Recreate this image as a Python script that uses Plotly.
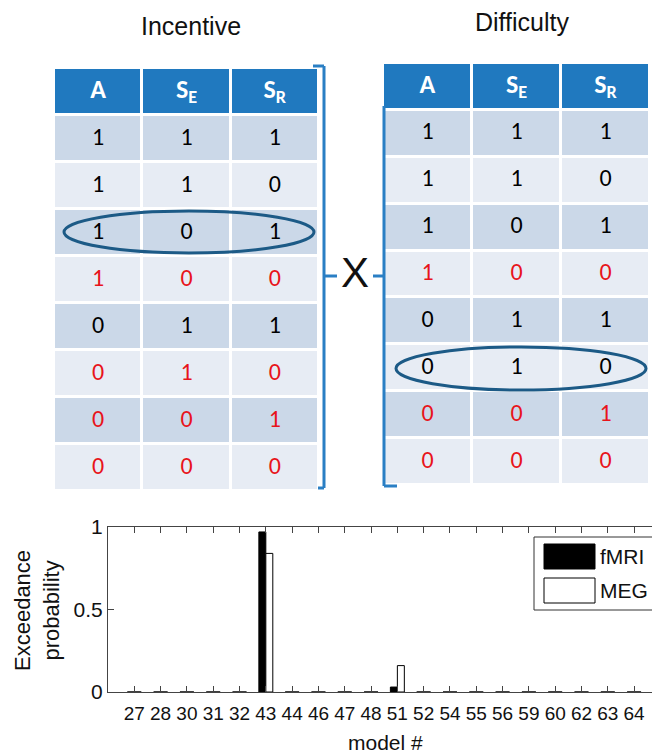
import plotly.graph_objects as go

W, H = 652, 754

# ---------------- data ----------------
table_headers = ["A", "S<sub>E</sub>", "S<sub>R</sub>"]
col_A = ["1", "1", "1", "1", "0", "0", "0", "0"]
col_SE = ["1", "1", "0", "0", "1", "1", "0", "0"]
col_SR = ["1", "0", "1", "0", "1", "0", "1", "0"]
incentive_red_rows = [3, 5, 6, 7]
difficulty_red_rows = [3, 6, 7]
incentive_title = "Incentive"
difficulty_title = "Difficulty"

models = ["27", "28", "30", "31", "32", "43", "44", "46", "47", "48",
          "51", "52", "54", "55", "56", "59", "60", "62", "63", "64"]
fmri = [0, 0, 0, 0, 0, 0.97, 0, 0, 0, 0,
        0.03, 0, 0, 0, 0, 0, 0, 0, 0, 0]
meg = [0, 0, 0, 0, 0, 0.84, 0, 0, 0, 0,
       0.16, 0, 0, 0, 0, 0, 0, 0, 0, 0]
series_names = ["fMRI", "MEG"]
series_fill = ["black", "white"]


def px(x):
    return x / W


def py(y):
    return 1 - y / H


HEADER_BLUE = "#2079bf"
ROW_DARK = "#cbd8e8"
ROW_LIGHT = "#e7ecf4"
RED = "#e8141b"
BRACKET = "#2a7fc4"
ELLIPSE = "#1c5a86"

CELL_FONT = "Carlito, Lato, Open Sans, sans-serif"
AX_FONT = "Liberation Sans, Arial, sans-serif"

fig = go.Figure()
layout_axes = {}


def add_table(idx, x0, x1, y0, y1, red_rows):
    xa, ya = f"x{idx}", f"y{idx}"
    n = len(col_A)
    cols = [col_A, col_SE, col_SR]
    rows = list(range(-1, n))
    # z: header=2, dark=0, light=1
    z = [[2, 2, 2]] + [[(0 if i % 2 == 0 else 1)] * 3 for i in range(n)]
    fig.add_trace(go.Heatmap(
        x=[0, 1, 2], y=rows, z=z, zmin=0, zmax=2,
        colorscale=[[0, ROW_DARK], [0.5, ROW_LIGHT], [1, HEADER_BLUE]],
        showscale=False, xgap=3, ygap=3, hoverinfo="skip",
        xaxis=xa, yaxis=ya,
    ))
    # header text
    fig.add_trace(go.Scatter(
        x=[0, 1, 2], y=[-1, -1, -1], text=table_headers, mode="text",
        textposition="middle center",
        textfont=dict(family=CELL_FONT, size=26, color="white", weight="bold"),
        hoverinfo="skip", showlegend=False, xaxis=xa, yaxis=ya,
    ))
    tx, ty, tt, tc = [], [], [], []
    for c, col in enumerate(cols):
        for r, v in enumerate(col):
            tx.append(c)
            ty.append(r)
            tt.append(v)
            tc.append(RED if r in red_rows else "black")
    fig.add_trace(go.Scatter(
        x=tx, y=ty, text=tt, mode="text", textposition="middle center",
        textfont=dict(family=CELL_FONT, size=24, color=tc),
        hoverinfo="skip", showlegend=False, xaxis=xa, yaxis=ya,
    ))
    layout_axes[f"xaxis{idx}"] = dict(domain=[px(x0), px(x1)], range=[-0.5, 2.5],
                                      visible=False, fixedrange=True)
    layout_axes[f"yaxis{idx}"] = dict(domain=[py(y1), py(y0)], range=[n - 0.5, -1.5],
                                      visible=False, fixedrange=True)


add_table(2, 54, 319, 68, 491, incentive_red_rows)
add_table(3, 383, 650, 63, 485, difficulty_red_rows)

# ---------------- bar chart ----------------
fig.add_trace(go.Bar(x=list(range(len(models))), y=fmri, name=series_names[0],
                     marker=dict(color=series_fill[0], line=dict(color="black", width=1)),
                     showlegend=False))
fig.add_trace(go.Bar(x=list(range(len(models))), y=meg, name=series_names[1],
                     marker=dict(color=series_fill[1], line=dict(color="black", width=1)),
                     showlegend=False))

axis_line = "#444444"
fig.update_layout(
    width=W, height=H,
    margin=dict(l=0, r=0, t=0, b=0),
    paper_bgcolor="white", plot_bgcolor="rgba(0,0,0,0)",
    template="none",
    barmode="group", bargap=0.47, bargroupgap=0,
    showlegend=False,
    xaxis=dict(
        domain=[px(108), 1], range=[-1, 19.68],
        tickmode="array", tickvals=list(range(len(models))), ticktext=models,
        ticks="inside", ticklen=6, tickcolor=axis_line, tickangle=0,
        ticklabelstandoff=4,
        showline=True, linecolor=axis_line, linewidth=1, mirror="ticks",
        showgrid=False, zeroline=False, automargin=False,
        tickfont=dict(family=AX_FONT, size=19, color="#111"),
    ),
    yaxis=dict(
        domain=[py(692), py(527)], range=[0, 1],
        tickmode="array", tickvals=[0, 0.5, 1], ticktext=["0", "0.5", "1"],
        ticks="inside", ticklen=6, tickcolor=axis_line,
        showline=True, linecolor=axis_line, linewidth=1, mirror="ticks",
        showgrid=False, zeroline=False, automargin=False,
        tickfont=dict(family=AX_FONT, size=21, color="#111"),
    ),
    **layout_axes,
)

annotations = [
    dict(text=incentive_title, x=px(191), y=py(26), font=dict(size=25, family="Liberation Sans, Arial", color="#111")),
    dict(text=difficulty_title, x=px(522), y=py(22), font=dict(size=25, family="Liberation Sans, Arial", color="#111")),
    dict(text="X", x=px(354.5), y=py(272), font=dict(size=42, family="Liberation Sans, Arial", color="#111")),
    dict(text="model #", x=px(385), y=py(742), font=dict(size=21, family=AX_FONT, color="#111")),
    dict(text="Exceedance<br>probability", x=px(37), y=py(611), textangle=-90,
         font=dict(size=22, family=AX_FONT, color="#111")),
]

# custom legend
shapes = []
leg_x0, leg_y0, leg_x1, leg_y1 = 534, 537, 660, 610
shapes.append(dict(type="rect", xref="paper", yref="paper",
                   x0=px(leg_x0), x1=px(leg_x1), y0=py(leg_y1), y1=py(leg_y0),
                   line=dict(color="#333", width=1), fillcolor="white"))
for i, (nm, fc) in enumerate(zip(series_names, series_fill)):
    top = 544 + i * 34
    shapes.append(dict(type="rect", xref="paper", yref="paper",
                       x0=px(544), x1=px(595), y0=py(top + 25), y1=py(top),
                       line=dict(color="black", width=1), fillcolor=fc))
    annotations.append(dict(text=nm, x=px(598), y=py(top + 12.5), xanchor="left",
                            font=dict(size=21, family=AX_FONT, color="#111")))

# ellipses
for (x0, x1, y0, y1) in [(64, 314, 211, 253), (396, 646, 347, 390)]:
    shapes.append(dict(type="circle", xref="paper", yref="paper",
                       x0=px(x0), x1=px(x1), y0=py(y1), y1=py(y0),
                       line=dict(color=ELLIPSE, width=3)))


# brackets
def seg(x0, y0, x1, y1):
    return dict(type="line", xref="paper", yref="paper",
                x0=px(x0), y0=py(y0), x1=px(x1), y1=py(y1),
                line=dict(color=BRACKET, width=3))


shapes += [
    seg(324, 66, 324, 488), seg(313, 66, 324, 66), seg(318, 488, 324, 488), seg(324, 276, 337, 276),
    seg(384, 106, 384, 486), seg(384, 486, 397, 486), seg(373, 276, 384, 276),
]

for a in annotations:
    a.setdefault("xref", "paper")
    a.setdefault("yref", "paper")
    a.setdefault("showarrow", False)
    a.setdefault("xanchor", "center")
    a.setdefault("yanchor", "middle")

fig.update_layout(annotations=annotations, shapes=shapes)
fig.write_html("out.html", config={"displayModeBar": False},
               post_script="document.body.style.margin='0px';document.body.style.overflow='hidden';")
